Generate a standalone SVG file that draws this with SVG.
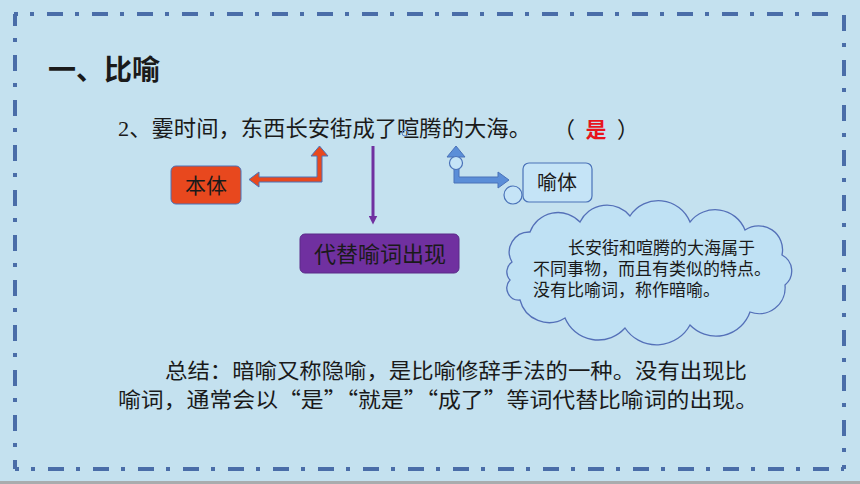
<svg xmlns="http://www.w3.org/2000/svg" width="860" height="484" viewBox="0 0 860 484">
<style>
.bd{fill:none;stroke:#4a6da8;stroke-width:4;stroke-dasharray:16 12 4 13}
.cn{font-family:"Liberation Serif","Noto Sans CJK SC",serif;fill:#1a1a1a}
.cj{font-family:"Noto Sans CJK SC",sans-serif;fill:#1a1a1a}
.bub{fill:#c5e4f7;stroke:#4a72b8;stroke-width:1.2}
</style>
<defs>
<marker id="pa" viewBox="0 0 6 6" refX="3" refY="3" markerWidth="3" markerHeight="3" orient="auto"><path d="M0,0 L6,3 L0,6 z" fill="#7030a0"/></marker>
</defs>
<rect width="860" height="484" fill="#c4e1ef"/>
<rect x="0" y="481" width="860" height="3" fill="#a9acae"/>
<g id="border">
<path class="bd" d="M14,14 H836" stroke-dashoffset="12"/>
<path class="bd" d="M15,14 V469" stroke-dashoffset="4"/>
<path class="bd" d="M844,14 V469" stroke-dashoffset="44"/>
<path class="bd" d="M15,469 H844" stroke-dashoffset="12"/>
</g>
<g id="title"><text x="48" y="80" font-family="Noto Sans CJK SC,sans-serif" font-weight="bold" font-size="28" fill="#1a1a1a">一、比喻</text></g>
<g id="sentence">
<text class="cn" x="118" y="136" font-size="22" textLength="413" lengthAdjust="spacingAndGlyphs">2、霎时间，东西长安街成了喧腾的大海。</text>
<circle cx="405" cy="133" r="3" fill="none" stroke="#5a82c8" stroke-width="1"/>
<text class="cn" x="575" y="137" font-size="22" text-anchor="end">（</text>
<text x="596" y="137" font-size="21" text-anchor="middle" font-family="Noto Sans CJK SC,sans-serif" font-weight="bold" fill="#e8141c">是</text>
<text class="cn" x="617" y="137" font-size="22">）</text>
</g>
<g id="connectors">
<polygon points="249,179.5 259,172 259,177 317,177 317,156 311,156 319.5,146 328,156 322,156 322,182 259,182 259,187" fill="#e8481e" stroke="#4a72b8" stroke-width="1"/>
<line x1="373" y1="146" x2="373" y2="220" stroke="#7030a0" stroke-width="3" marker-end="url(#pa)"/>
<polygon points="456,146 465,157 459,157 459,177 498,177 498,172 509,180 498,188 498,183 454,183 454,157 447,157" fill="#5b8ed8" stroke="#4a72b8" stroke-width="1"/>
</g>
<g id="benti">
<rect x="171" y="166" width="70" height="38" rx="5" fill="#e8481e" stroke="#4a72b8" stroke-width="1"/>
<text class="cn" x="206" y="193" font-size="21" text-anchor="middle">本体</text>
</g>
<g id="daiti">
<rect x="300" y="234" width="159" height="39" rx="5" fill="#7030a0" stroke="#5a2a88" stroke-width="1"/>
<text class="cn" x="380" y="262" font-size="22" text-anchor="middle">代替喻词出现</text>
</g>
<g id="yuti">
<rect x="523" y="163" width="69" height="39" rx="6" class="bub"/>
<circle cx="456" cy="163" r="6.5" class="bub"/>
<circle cx="513" cy="195" r="9" class="bub"/>
<text class="cn" x="557" y="190" font-size="20" text-anchor="middle">喻体</text>
</g>
<g id="cloud">
<path d="M512,262 A20,20 0 0 1 530,232 A30,30 0 0 1 580,222 A30,30 0 0 1 630,216 A34,34 0 0 1 690,222 A32,32 0 0 1 745,230 A24,24 0 0 1 782,255 A18,18 0 0 1 785,285 A26,26 0 0 1 750,312 A36,36 0 0 1 690,325 A38,38 0 0 1 625,328 A36,36 0 0 1 565,318 A30,30 0 0 1 520,300 A12,12 0 0 1 510,280 A12,12 0 0 1 512,262 Z" fill="#bfe1f4" stroke="#5470b8" stroke-width="1.3"/>
<text class="cn" font-size="17"><tspan x="568" y="254">长安街和喧腾的大海属于</tspan><tspan x="533" y="275">不同事物，而且有类似的特点。</tspan><tspan x="533" y="296">没有比喻词，称作暗喻。</tspan></text>
</g>
<g id="summary">
<text class="cj" x="165" y="378" font-size="21" textLength="582" lengthAdjust="spacingAndGlyphs">总结：暗喻又称隐喻，是比喻修辞手法的一种。没有出现比</text>
<text class="cj" x="118" y="407" font-size="21" textLength="640" lengthAdjust="spacingAndGlyphs">喻词，通常会以“是”“就是”“成了”等词代替比喻词的出现。</text>
</g>
</svg>
